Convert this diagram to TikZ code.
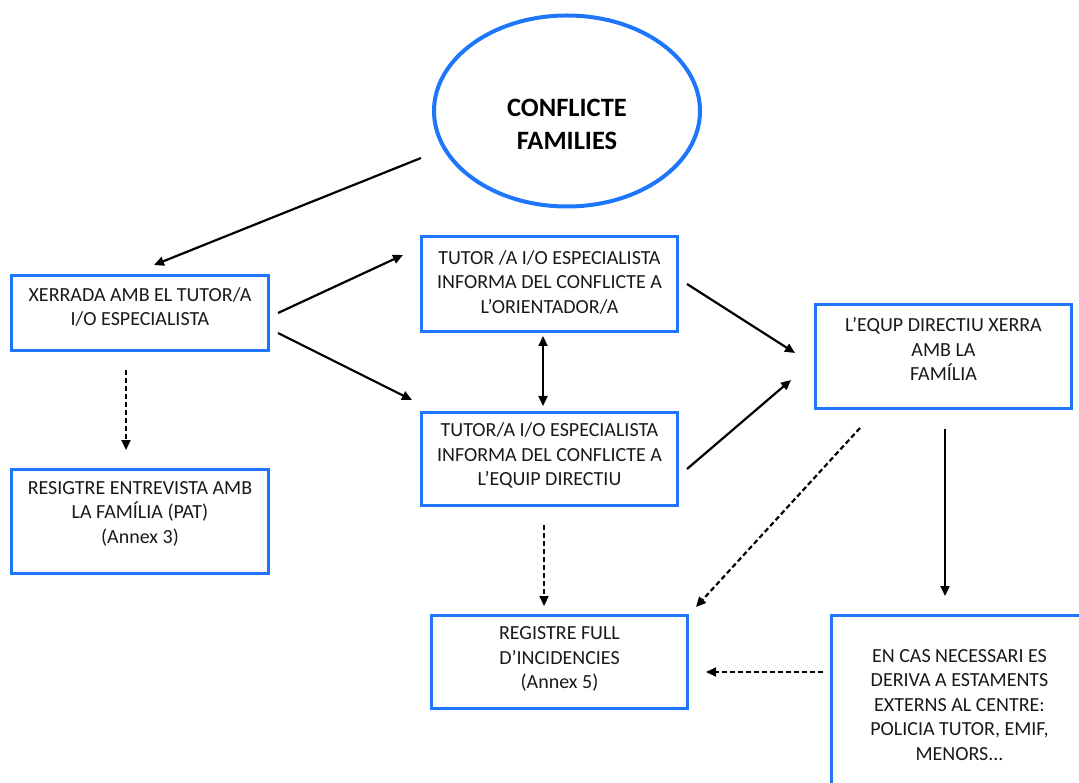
\documentclass[tikz,border=0pt]{standalone}
\usepackage{fontspec}
\setmainfont{Carlito}
\usetikzlibrary{arrows.meta,shapes.geometric}
\definecolor{bblue}{RGB}{30,118,250}
\tikzset{
  box/.style={draw=bblue,line width=3pt,inner sep=0pt,rectangle},
  txt/.style={align=center,font=\fontsize{20}{24.5}\selectfont,text=black!90},
  arr/.style={line width=2.2pt,-{Triangle[length=10pt,width=9pt]}},
  darr/.style={line width=2.2pt,dash pattern=on 5pt off 3pt,-{Triangle[length=10pt,width=9pt]}},
  barr/.style={line width=2.2pt,{Triangle[length=10pt,width=9pt]}-{Triangle[length=10pt,width=9pt]}},
}
\begin{document}
\begin{tikzpicture}[x=1pt,y=-1pt]
\useasboundingbox (0,0) rectangle (1079,783);
\node[ellipse,draw=bblue,line width=4pt,minimum width=266pt,minimum height=191pt,inner sep=0pt,
  label={[align=center,font=\fontsize{26.5}{33}\selectfont\bfseries,yshift=-13pt]center:CONFLICTE\\FAMILIES}] (e) at (567,111) {};
\node[box,minimum width=257pt,minimum height=75pt,label={[txt,yshift=6pt]center:XERRADA AMB EL TUTOR/A\\I/O ESPECIALISTA}] (b1) at (140,313) {};
\node[box,minimum width=257pt,minimum height=104pt,label={[txt,yshift=8pt]center:RESIGTRE ENTREVISTA AMB\\LA FAMÍLIA (PAT)\\(Annex 3)}] (b2) at (140,521.5) {};
\node[box,minimum width=256pt,minimum height=95pt,label={[txt,yshift=2pt]center:TUTOR /A I/O ESPECIALISTA\\INFORMA DEL CONFLICTE A\\L’ORIENTADOR/A}] (b3) at (549.5,284) {};
\node[box,minimum width=256pt,minimum height=93pt,label={[txt,yshift=3.5pt]center:TUTOR/A I/O ESPECIALISTA\\INFORMA DEL CONFLICTE A\\L’EQUIP DIRECTIU}] (b4) at (549.5,459) {};
\node[box,minimum width=256pt,minimum height=104pt,label={[txt,yshift=7.5pt]center:L’EQUP DIRECTIU XERRA\\AMB LA\\FAMÍLIA}] (b5) at (943.5,356.5) {};
\node[box,minimum width=256pt,minimum height=93pt,label={[txt,yshift=3pt]center:REGISTRE FULL\\D’INCIDENCIES\\(Annex 5)}] (b6) at (559.5,662) {};
\node[box,minimum width=256pt,minimum height=185pt,label={[txt,yshift=3pt]center:EN CAS NECESSARI ES\\DERIVA A ESTAMENTS\\EXTERNS AL CENTRE:\\POLICIA TUTOR, EMIF,\\MENORS...}] (b7) at (959.5,708) {};
% connector end points
\coordinate (e-s) at (421,158);   \coordinate (b1-t) at (154,265);
\coordinate (b1-s1) at (278,313); \coordinate (b3-t) at (403,255);
\coordinate (b1-s2) at (278,333); \coordinate (b4-t) at (412,400);
\coordinate (b1-s3) at (126,370); \coordinate (b2-t) at (126,450);
\coordinate (b3-s) at (543,336);  \coordinate (b4-s) at (543,406);
\coordinate (b3-s2) at (687,284); \coordinate (b5-t1) at (795,353);
\coordinate (b4-s2) at (687,469); \coordinate (b5-t2) at (791,380);
\coordinate (b4-s3) at (544,525); \coordinate (b6-t1) at (544,606);
\coordinate (b5-s1) at (860,428); \coordinate (b6-t2) at (696,607);
\coordinate (b5-s2) at (945,429); \coordinate (b7-t) at (945,596);
\coordinate (b7-s) at (823,672);  \coordinate (b6-t3) at (706,672);
\draw[arr] (e-s) -- (b1-t);
\draw[arr] (b1-s1) -- (b3-t);
\draw[arr] (b1-s2) -- (b4-t);
\draw[darr] (b1-s3) -- (b2-t);
\draw[barr] (b3-s) -- (b4-s);
\draw[arr] (b3-s2) -- (b5-t1);
\draw[arr] (b4-s2) -- (b5-t2);
\draw[darr] (b4-s3) -- (b6-t1);
\draw[darr] (b5-s1) -- (b6-t2);
\draw[arr] (b5-s2) -- (b7-t);
\draw[darr] (b7-s) -- (b6-t3);
\end{tikzpicture}
\end{document}
